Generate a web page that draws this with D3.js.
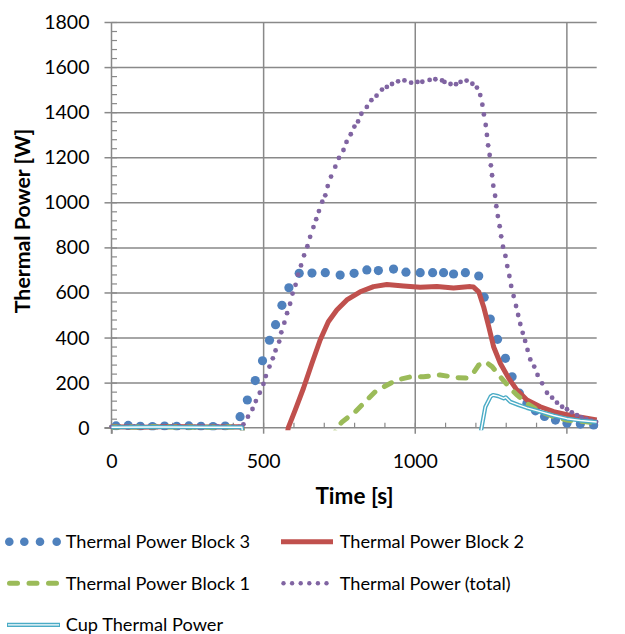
<!DOCTYPE html>
<html>
<head>
<meta charset="utf-8">
<script src="https://cdn.jsdelivr.net/npm/d3@7"></script>
<style>
  body { margin: 0; background: #fff; }
  text { font-family: Lato, "Open Sans", sans-serif; fill: #000; }
</style>
</head>
<body>
<div id="chart"></div>
<script>
// chart.js

const W = 625, H = 634;

// Thermal Power Block 3 (blue dots)
const block3T = [15, 55, 95, 135, 175, 215, 255, 295, 335, 375, 424, 448, 474, 498, 521, 541, 562, 585, 619, 661, 705, 754, 800, 842, 880, 930, 971, 1018, 1059, 1095, 1128, 1167, 1211, 1229, 1249, 1273, 1299, 1321, 1345, 1370, 1398, 1428, 1464, 1502, 1546, 1590];
const block3V = [8, 10, 6, 5, 7, 6, 8, 6, 5, 7, 49, 123, 209, 297, 388, 457, 543, 621, 685, 686, 688, 677, 685, 700, 697, 704, 690, 688, 688, 688, 682, 688, 673, 579, 482, 392, 308, 226, 153, 108, 75, 50, 34, 20, 16, 12];

// Thermal Power Block 2 (red)
const block2T = [0, 100, 200, 300, 430, 445, 565, 583, 606, 633, 661, 688, 715, 743, 776, 820, 864, 908, 963, 1018, 1073, 1128, 1183, 1194, 1211, 1227, 1244, 1260, 1282, 1310, 1337, 1370, 1414, 1458, 1502, 1557, 1600];
const block2V = [4, 2, 5, 3, 4, -150, -150, 0, 79, 175, 286, 389, 470, 522, 567, 603, 626, 635, 629, 623, 626, 620, 626, 624, 603, 537, 448, 359, 286, 219, 167, 123, 93, 71, 58, 44, 34];

// Thermal Power Block 1 (green dashes)
const block1T = [0, 150, 300, 430, 445, 700, 743, 760, 804, 842, 870, 903, 941, 985, 1029, 1084, 1139, 1172, 1192, 1211, 1233, 1255, 1282, 1310, 1337, 1370, 1414, 1458, 1502, 1557, 1600];
const block1V = [3, 4, 2, 3, -150, -150, 0, 25, 71, 123, 160, 185, 212, 225, 226, 234, 222, 220, 240, 278, 293, 271, 226, 182, 145, 108, 71, 49, 34, 27, 20];

// Thermal Power (total) (purple dots)
const totalT = [0, 25, 50, 75, 100, 125, 150, 175, 200, 225, 250, 275, 300, 325, 350, 375, 400, 420,
  435, 450, 465, 476, 489, 501, 509, 521, 532, 541, 553, 560, 570, 579, 589, 597, 607, 615, 625, 635,
  646, 655, 666, 675, 684, 695, 705, 713, 724, 738, 750, 765, 775, 789, 801, 813, 824, 842, 857, 874,
  892, 908, 925, 945, 966, 988, 1009, 1025, 1049, 1068, 1090, 1098, 1118, 1136, 1151, 1171, 1190, 1205,
  1216, 1223, 1228, 1234, 1238, 1242, 1247, 1251, 1255, 1259, 1265, 1269, 1274, 1280, 1285, 1291, 1299,
  1305, 1312, 1318, 1326, 1334, 1341, 1348, 1356, 1364, 1372, 1381, 1394, 1405, 1420, 1436, 1453, 1469,
  1486, 1502, 1518, 1535, 1550, 1566, 1582, 1598];
const totalV = [4, 5, 3, 6, 4, 5, 3, 4, 6, 5, 4, 3, 5, 4, 6, 4, 5, 4,
  15, 49, 83, 118, 155, 194, 229, 271, 308, 343, 382, 423, 466, 508, 550, 595, 634, 679, 720, 765,
  805, 847, 890, 925, 961, 1003, 1031, 1072, 1114, 1158, 1197, 1232, 1268, 1302, 1336, 1359, 1393, 1423, 1453, 1473,
  1500, 1512, 1525, 1537, 1541, 1531, 1534, 1535, 1543, 1546, 1541, 1534, 1525, 1524, 1534, 1540, 1526, 1509,
  1476, 1433, 1390, 1343, 1299, 1253, 1210, 1164, 1120, 1074, 1029, 983, 939, 894, 849, 803, 762,
  717, 673, 629, 584, 540, 500, 460, 421, 385, 345, 303, 271, 234, 197, 155, 133, 111,
  93, 82, 68, 56, 46, 38, 31, 26];

// Cup Thermal Power (cyan double line)
const cupT = [0, 150, 300, 430, 445, 1200, 1233, 1250, 1258, 1275, 1293, 1300, 1315, 1342, 1370, 1414, 1458, 1502, 1546, 1600];
const cupV = [2, 3, 2, 2, -150, -150, 93, 138, 145, 140, 130, 135, 115, 101, 88, 71, 54, 40, 32, 25];

const xTicks = [0, 500, 1000, 1500];
const yTicks = [0, 200, 400, 600, 800, 1000, 1200, 1400, 1600, 1800];

const colors = {
  block3: "#4F81BD",
  block2: "#C0504D",
  block1: "#9BBB59",
  total: "#8064A2",
  cup: "#4BACC6"
};
const gridColor = "#898989";

const svg = d3.select("#chart").append("svg")
  .attr("width", W)
  .attr("height", H);

const x = d3.scaleLinear().domain([0, 1600]).range([111.5, 596.7]);
const y = d3.scaleLinear().domain([0, 1800]).range([427.7, 22]);

const zip = (ts, vs) => ts.map((t, i) => ({ t, v: vs[i] }));

// grid
svg.append("g")
  .attr("transform", `translate(${x(0)},0)`)
  .call(d3.axisLeft(y).tickValues(yTicks.slice(1)).tickSize(-(x(1600) - x(0))).tickFormat(""))
  .call(g => g.select(".domain").remove())
  .call(g => g.selectAll("line").attr("stroke", gridColor).attr("stroke-width", 1.5));

svg.append("g")
  .attr("transform", `translate(0,${y(0)})`)
  .call(d3.axisBottom(x).tickValues(xTicks.slice(1)).tickSize(-(y(0) - y(1800))).tickFormat(""))
  .call(g => g.select(".domain").remove())
  .call(g => g.selectAll("line").attr("stroke", gridColor).attr("stroke-width", 1.5));

// minor ticks
svg.append("g")
  .attr("transform", `translate(${x(0)},0)`)
  .call(d3.axisRight(y).tickValues(d3.range(0, 1801, 40)).tickSize(5.5).tickFormat(""))
  .call(g => g.select(".domain").remove())
  .call(g => g.selectAll("line").attr("stroke", gridColor).attr("stroke-width", 1.2));

svg.append("g")
  .attr("transform", `translate(0,${y(0)})`)
  .call(d3.axisTop(x).tickValues(d3.range(100, 1601, 100)).tickSize(5).tickFormat(""))
  .call(g => g.select(".domain").remove())
  .call(g => g.selectAll("line").attr("stroke", gridColor).attr("stroke-width", 1.2));

// main axes
const yAxis = svg.append("g")
  .attr("transform", `translate(${x(0)},0)`)
  .call(d3.axisLeft(y).tickValues(yTicks).tickSize(7).tickPadding(15).tickFormat(d3.format("d")))
  .call(g => g.select(".domain").attr("stroke", gridColor).attr("stroke-width", 1.5).attr("d", `M0,${y(1800)}V${y(0) + 6}`))
  .call(g => g.selectAll("line").attr("stroke", gridColor).attr("stroke-width", 1.5));

yAxis.selectAll("text")
  .attr("font-size", "19.5px")
  .attr("font-family", "Lato, sans-serif")
  .attr("fill", "#000")
  .attr("dy", "6.5");

const xAxis = svg.append("g")
  .attr("transform", `translate(0,${y(0)})`)
  .call(d3.axisBottom(x).tickValues(xTicks).tickSize(6).tickPadding(17).tickFormat(d3.format("d")))
  .call(g => g.select(".domain").attr("stroke", gridColor).attr("stroke-width", 1.5).attr("d", `M${x(0) - 7},0H${x(1600)}`))
  .call(g => g.selectAll("line").attr("stroke", gridColor).attr("stroke-width", 1.5));

xAxis.selectAll("text")
  .attr("font-size", "19.5px")
  .attr("font-family", "Lato, sans-serif")
  .attr("fill", "#000")
  .attr("dy", "0.9em");

// axis titles
svg.append("text")
  .attr("x", 354.5)
  .attr("y", 504)
  .attr("text-anchor", "middle")
  .attr("font-size", "22.5px")
  .attr("font-weight", "bold")
  .text("Time [s]");

svg.append("text")
  .attr("transform", "translate(30,221) rotate(-90)")
  .attr("text-anchor", "middle")
  .attr("font-size", "21.3px")
  .attr("font-weight", "bold")
  .text("Thermal Power [W]");

// series
svg.append("clipPath").attr("id", "plot-clip")
  .append("rect")
  .attr("x", x(0) - 5).attr("y", y(1800) - 5)
  .attr("width", x(1600) - x(0) + 10)
  .attr("height", y(0) - y(1800) + 7.5);

const plot = svg.append("g").attr("clip-path", "url(#plot-clip)");

const line = d3.line().x(d => x(d.t)).y(d => y(d.v));

plot.append("g").selectAll("circle")
  .data(zip(block3T, block3V))
  .join("circle")
  .attr("cx", d => x(d.t))
  .attr("cy", d => y(d.v))
  .attr("r", 4.6)
  .attr("fill", colors.block3);

plot.append("path")
  .attr("d", line(zip(block2T, block2V)))
  .attr("fill", "none")
  .attr("stroke", colors.block2)
  .attr("stroke-width", 5)
  .attr("stroke-linejoin", "round");

plot.append("path")
  .attr("d", line(zip(block1T, block1V)))
  .attr("fill", "none")
  .attr("stroke", colors.block1)
  .attr("stroke-width", 5)
  .attr("stroke-dasharray", "8,11")
  .attr("stroke-linecap", "round");

plot.append("g").selectAll("circle")
  .data(zip(totalT, totalV))
  .join("circle")
  .attr("cx", d => x(d.t))
  .attr("cy", d => y(d.v))
  .attr("r", 2.4)
  .attr("fill", colors.total);

const cupPath = line(zip(cupT, cupV));
plot.append("path")
  .attr("d", cupPath)
  .attr("fill", "none")
  .attr("stroke", colors.cup)
  .attr("stroke-width", 4.2)
  .attr("stroke-linejoin", "round");
plot.append("path")
  .attr("d", cupPath)
  .attr("fill", "none")
  .attr("stroke", "#fff")
  .attr("stroke-width", 1.4)
  .attr("stroke-linejoin", "round");

// legend
const legendItems = [
  { name: "Thermal Power Block 3", key: "block3", col: 0, row: 0 },
  { name: "Thermal Power Block 2", key: "block2", col: 1, row: 0 },
  { name: "Thermal Power Block 1", key: "block1", col: 0, row: 1 },
  { name: "Thermal Power (total)", key: "total", col: 1, row: 1 },
  { name: "Cup Thermal Power", key: "cup", col: 0, row: 2 }
];

const legend = svg.append("g");
legendItems.forEach(item => {
  const lx = item.col === 0 ? 7 : 281;
  const ly = 541.7 + item.row * 41.6;
  const g = legend.append("g").attr("transform", `translate(${lx},${ly})`);

  if (item.key === "block3") {
    [2.3, 17.3, 33, 49.7].forEach(cx => {
      g.append("circle").attr("cx", cx).attr("cy", 0).attr("r", 4.3).attr("fill", colors.block3);
    });
  } else if (item.key === "block2") {
    g.append("line").attr("x1", 0).attr("x2", 52).attr("y1", 0).attr("y2", 0)
      .attr("stroke", colors.block2).attr("stroke-width", 5);
  } else if (item.key === "block1") {
    g.append("line").attr("x1", 2.5).attr("x2", 52).attr("y1", 0).attr("y2", 0)
      .attr("stroke", colors.block1).attr("stroke-width", 5)
      .attr("stroke-dasharray", "8,11.5").attr("stroke-linecap", "round");
  } else if (item.key === "total") {
    d3.range(6).forEach(i => {
      g.append("circle").attr("cx", 2.5 + i * 8.6).attr("cy", 0).attr("r", 2.2).attr("fill", colors.total);
    });
  } else {
    g.append("line").attr("x1", 0).attr("x2", 53).attr("y1", 0).attr("y2", 0)
      .attr("stroke", colors.cup).attr("stroke-width", 4.2);
    g.append("line").attr("x1", 1).attr("x2", 52).attr("y1", 0).attr("y2", 0)
      .attr("stroke", "#fff").attr("stroke-width", 1.4);
  }

  g.append("text")
    .attr("x", 58.7)
    .attr("y", 6.5)
    .attr("font-size", "18.2px")
    .text(item.name);
});
</script>
</body>
</html>
